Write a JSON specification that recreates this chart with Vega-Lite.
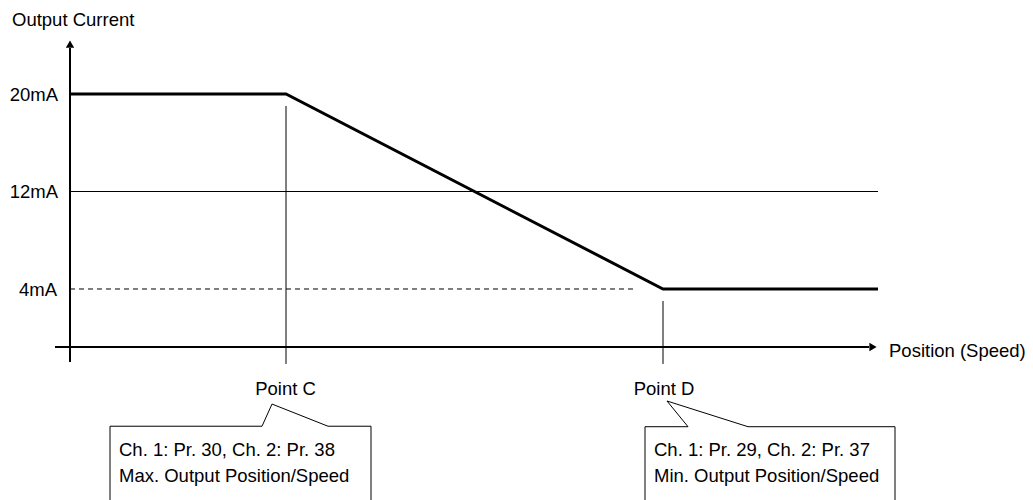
{
  "$schema": "https://vega.github.io/schema/vega-lite/v6.json",
  "width": 1033,
  "height": 500,
  "autosize": {"type": "none"},
  "padding": 0,
  "background": "white",
  "config": {"view": {"stroke": null}, "text": {"font": "Liberation Sans", "fontSize": 18.5, "color": "#000"}},
  "datasets": {
    "axes": [
      {"x": 70, "x2": 70, "y": -1.99, "y2": 23.77},
      {"x": 55, "x2": 869, "y": -0.76, "y2": -0.76}
    ],
    "thin": [
      {"x": 70, "x2": 878, "y": 12, "y2": 12},
      {"x": 286, "x2": 286, "y": 19.02, "y2": -2.15},
      {"x": 663, "x2": 663, "y": 3.02, "y2": -2.15}
    ],
    "dashed": [
      {"x": 70, "x2": 636, "y": 4, "y2": 4}
    ],
    "curve": [
      {"position": 70, "current": 20},
      {"position": 286, "current": 20},
      {"position": 663, "current": 4},
      {"position": 878, "current": 4}
    ],
    "arrowUp": [{"x": 70, "y": 24.1}],
    "arrowRight": [{"x": 873, "y": -0.76}],
    "callouts": [
      {"box": "C", "i": 0, "x": 110, "y": -14.2},
      {"box": "C", "i": 1, "x": 110, "y": -7.26},
      {"box": "C", "i": 2, "x": 262, "y": -7.26},
      {"box": "C", "i": 3, "x": 272, "y": -5.44},
      {"box": "C", "i": 4, "x": 328, "y": -7.26},
      {"box": "C", "i": 5, "x": 371, "y": -7.26},
      {"box": "C", "i": 6, "x": 371, "y": -14.2},
      {"box": "D", "i": 0, "x": 645, "y": -14.2},
      {"box": "D", "i": 1, "x": 645, "y": -7.3},
      {"box": "D", "i": 2, "x": 688, "y": -7.3},
      {"box": "D", "i": 3, "x": 667, "y": -5.19},
      {"box": "D", "i": 4, "x": 748, "y": -7.3},
      {"box": "D", "i": 5, "x": 895, "y": -7.3},
      {"box": "D", "i": 6, "x": 895, "y": -14.2}
    ],
    "labelsRight": [
      {"x": 58, "y": 19.95, "label": "20mA"},
      {"x": 58, "y": 11.95, "label": "12mA"},
      {"x": 57, "y": 3.95, "label": "4mA"}
    ],
    "labelsCenter": [
      {"x": 285.5, "y": -4.2, "label": "Point C"},
      {"x": 664, "y": -4.2, "label": "Point D"}
    ],
    "labelsLeft": [
      {"x": 12, "y": 26.1, "label": "Output Current"},
      {"x": 889, "y": -1.05, "label": "Position (Speed)"},
      {"x": 119, "y": -9.25, "label": "Ch. 1: Pr. 30, Ch. 2: Pr. 38"},
      {"x": 119, "y": -11.38, "label": "Max. Output Position/Speed"},
      {"x": 654, "y": -9.25, "label": "Ch. 1: Pr. 29, Ch. 2: Pr. 37"},
      {"x": 654, "y": -11.38, "label": "Min. Output Position/Speed"}
    ]
  },
  "layer": [
    {
      "data": {"name": "thin"},
      "mark": {"type": "rule", "color": "#000", "strokeWidth": 1},
      "encoding": {
        "x": {"field": "x", "type": "quantitative", "scale": {"domain": [0, 1033], "nice": false, "zero": false}, "axis": null},
        "x2": {"field": "x2"},
        "y": {"field": "y", "type": "quantitative", "scale": {"domain": [-13.313, 27.713], "nice": false, "zero": false}, "axis": null},
        "y2": {"field": "y2"}
      }
    },
    {
      "data": {"name": "dashed"},
      "mark": {"type": "rule", "color": "#000", "strokeWidth": 1, "strokeDash": [5, 4]},
      "encoding": {
        "x": {"field": "x", "type": "quantitative"},
        "x2": {"field": "x2"},
        "y": {"field": "y", "type": "quantitative"},
        "y2": {"field": "y2"}
      }
    },
    {
      "data": {"name": "axes"},
      "mark": {"type": "rule", "color": "#000", "strokeWidth": 2},
      "encoding": {
        "x": {"field": "x", "type": "quantitative"},
        "x2": {"field": "x2"},
        "y": {"field": "y", "type": "quantitative"},
        "y2": {"field": "y2"}
      }
    },
    {
      "data": {"name": "curve"},
      "mark": {"type": "line", "color": "#000", "strokeWidth": 3, "strokeJoin": "miter", "strokeCap": "butt"},
      "encoding": {
        "x": {"field": "position", "type": "quantitative"},
        "y": {"field": "current", "type": "quantitative"}
      }
    },
    {
      "data": {"name": "arrowUp"},
      "mark": {"type": "point", "shape": "triangle-up", "filled": true, "color": "#000", "size": 70, "opacity": 1},
      "encoding": {
        "x": {"field": "x", "type": "quantitative"},
        "y": {"field": "y", "type": "quantitative"}
      }
    },
    {
      "data": {"name": "arrowRight"},
      "mark": {"type": "point", "shape": "triangle-right", "filled": true, "color": "#000", "size": 70, "opacity": 1},
      "encoding": {
        "x": {"field": "x", "type": "quantitative"},
        "y": {"field": "y", "type": "quantitative"}
      }
    },
    {
      "data": {"name": "callouts"},
      "mark": {"type": "line", "color": "#000", "strokeWidth": 1, "strokeJoin": "miter"},
      "encoding": {
        "x": {"field": "x", "type": "quantitative"},
        "y": {"field": "y", "type": "quantitative"},
        "detail": {"field": "box"},
        "order": {"field": "i", "type": "quantitative"}
      }
    },
    {
      "data": {"name": "labelsRight"},
      "mark": {"type": "text", "align": "right", "baseline": "middle"},
      "encoding": {
        "x": {"field": "x", "type": "quantitative"},
        "y": {"field": "y", "type": "quantitative"},
        "text": {"field": "label"}
      }
    },
    {
      "data": {"name": "labelsCenter"},
      "mark": {"type": "text", "align": "center", "baseline": "middle"},
      "encoding": {
        "x": {"field": "x", "type": "quantitative"},
        "y": {"field": "y", "type": "quantitative"},
        "text": {"field": "label"}
      }
    },
    {
      "data": {"name": "labelsLeft"},
      "mark": {"type": "text", "align": "left", "baseline": "middle"},
      "encoding": {
        "x": {"field": "x", "type": "quantitative"},
        "y": {"field": "y", "type": "quantitative"},
        "text": {"field": "label"}
      }
    }
  ]
}
